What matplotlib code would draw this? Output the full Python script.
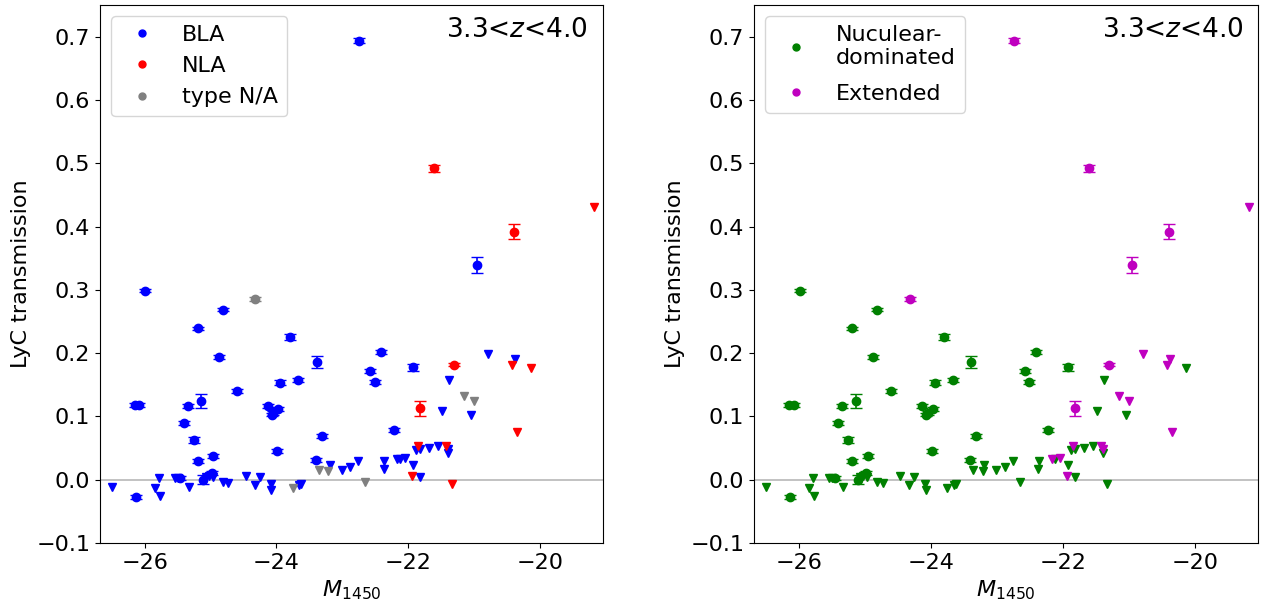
import numpy as np
import matplotlib
matplotlib.use("Agg")
from matplotlib import pyplot as plt
from matplotlib.lines import Line2D

# detections: M1450, LyC transmission, error, spectral type, morphology
det_m = [-22.74, -21.60, -20.39, -20.96, -25.99, -24.32, -24.81, -25.19, -23.80, -24.87,
         -23.39, -22.41, -22.575, -21.92, -21.30, -22.51, -23.94, -23.67, -24.60, -26.15,
         -26.08, -25.34, -25.14, -24.13, -23.97, -24.07, -24.05, -25.40, -25.25, -23.31,
         -22.22, -23.99, -24.96, -25.19, -23.40, -24.98, -25.11, -25.46, -26.13, -21.82]
det_t = [0.694, 0.492, 0.392, 0.339, 0.299, 0.285, 0.269, 0.239, 0.226, 0.194,
         0.186, 0.202, 0.172, 0.1775, 0.182, 0.155, 0.153, 0.158, 0.140, 0.1185,
         0.1185, 0.117, 0.125, 0.117, 0.112, 0.103, 0.105, 0.0895, 0.063, 0.0695,
         0.078, 0.046, 0.038, 0.030, 0.031, 0.0106, 0.0, 0.003, -0.027, 0.113]
det_err = [0.004, 0.006, 0.012, 0.013, 0.003, 0.003, 0.003, 0.003, 0.005, 0.003,
           0.009, 0.003, 0.003, 0.006, 0.003, 0.003, 0.004, 0.003, 0.003, 0.003,
           0.003, 0.003, 0.011, 0.003, 0.003, 0.003, 0.003, 0.003, 0.005, 0.003,
           0.003, 0.003, 0.003, 0.003, 0.003, 0.003, 0.007, 0.003, 0.003, 0.012]
det_type = ["BLA", "NLA", "NLA", "BLA", "BLA", "NA", "BLA", "BLA", "BLA", "BLA",
            "BLA", "BLA", "BLA", "BLA", "NLA", "BLA", "BLA", "BLA", "BLA", "BLA",
            "BLA", "BLA", "BLA", "BLA", "BLA", "BLA", "BLA", "BLA", "BLA", "BLA",
            "BLA", "BLA", "BLA", "BLA", "BLA", "BLA", "BLA", "BLA", "BLA", "NLA"]
det_morph = ["E", "E", "E", "E", "N", "E", "N", "N", "N", "N",
             "N", "N", "N", "N", "E", "N", "N", "N", "N", "N",
             "N", "N", "N", "N", "N", "N", "N", "N", "N", "N",
             "N", "N", "N", "N", "N", "N", "N", "N", "N", "E"]

# upper limits
lim_m = [-26.505, -25.84, -25.78, -25.77, -25.54, -25.50, -25.33, -25.07, -25.03, -24.97,
         -24.81, -24.73, -24.47, -24.33, -24.255, -24.09, -24.08, -23.65, -23.62, -23.19,
         -23.01, -22.88, -22.76, -22.36, -22.37, -22.17, -22.12, -22.05, -21.93, -21.88,
         -21.82, -21.82, -21.68, -21.55, -21.40, -21.39, -21.49, -21.04, -21.38, -20.79,
         -20.38,
         -23.75, -23.36, -23.21, -22.65, -21.15, -21.00,
         -21.85, -21.42, -21.94, -21.33, -20.34, -20.42, -20.13, -19.18]
lim_t = [-0.012, -0.013, 0.002, -0.026, 0.003, 0.003, -0.012, 0.004, 0.006, 0.004,
         -0.004, -0.005, 0.006, -0.008, 0.005, -0.006, -0.017, -0.009, -0.006, 0.0226,
         0.016, 0.020, 0.030, 0.029, 0.017, 0.033, 0.032, 0.034, 0.0226, 0.047,
         0.0485, 0.004, 0.050, 0.054, 0.0485, 0.043, 0.109, 0.1016, 0.158, 0.199,
         0.190,
         -0.013, 0.016, 0.014, -0.004, 0.133, 0.125,
         0.054, 0.054, 0.006, -0.006, 0.076, 0.181, 0.177, 0.431]
lim_type = ["BLA"] * 41 + ["NA"] * 6 + ["NLA"] * 8
lim_morph = ["N"] * 25 + ["E", "N", "E"] + ["N"] * 6 + ["E", "N", "N", "N", "N", "E", "E"] \
    + ["N", "N", "N", "N", "E", "E"] + ["E", "E", "E", "N", "E", "E", "N", "E"]

type_keys = ["BLA", "NA", "NLA"]
type_colors = {"BLA": "b", "NLA": "r", "NA": "gray"}
type_labels = {"BLA": "BLA", "NLA": "NLA", "NA": "type N/A"}
morph_keys = ["N", "E"]
morph_colors = {"N": "g", "E": "m"}
morph_labels = {"N": "Nuculear-\ndominated", "E": "Extended"}

det_m, det_t, det_err = np.array(det_m), np.array(det_t), np.array(det_err)
lim_m, lim_t = np.array(lim_m), np.array(lim_t)
det_type, det_morph = np.array(det_type), np.array(det_morph)
lim_type, lim_morph = np.array(lim_type), np.array(lim_morph)

plt.rcParams['font.size'] = 16

fig = plt.figure(figsize=(12.64, 6.03), dpi=100)
ax1 = fig.add_axes([0.0791, 0.0995, 0.398, 0.892])
ax2 = fig.add_axes([0.5965, 0.0995, 0.399, 0.892])


def draw_panel(ax, det_cls, lim_cls, keys, colors, labels, legend_order, spacing=0.5):
    ax.axhline(0, color='0.72', lw=1.2, zorder=0)
    for k in keys:
        sel = det_cls == k
        ax.errorbar(det_m[sel], det_t[sel], yerr=det_err[sel], fmt='o', color=colors[k],
                    ms=6, capsize=4, elinewidth=1.2)
        sel = lim_cls == k
        ax.plot(lim_m[sel], lim_t[sel], 'v', color=colors[k], ms=6, ls='none')
    handles = [Line2D([], [], marker='o', ls='none', color=colors[k], ms=5) for k in legend_order]
    ax.legend(handles, [labels[k] for k in legend_order], loc='upper left', fontsize=16,
              labelspacing=spacing)
    ax.text(0.97, 0.977, r'3.3<$z$<4.0', transform=ax.transAxes, ha='right', va='top', fontsize=19)
    ax.set_xlim(-26.68, -19.04)
    ax.set_ylim(-0.1, 0.75)
    ax.set_xticks([-26, -24, -22, -20])
    ax.set_yticks(np.arange(-0.1, 0.71, 0.1))
    ax.set_xlabel(r'$M_{1450}$')
    ax.set_ylabel('LyC transmission')


draw_panel(ax1, det_type, lim_type, type_keys, type_colors, type_labels, ["BLA", "NLA", "NA"])
draw_panel(ax2, det_morph, lim_morph, morph_keys, morph_colors, morph_labels, ["N", "E"], 0.7)

fig.savefig('out.png', dpi=100)
